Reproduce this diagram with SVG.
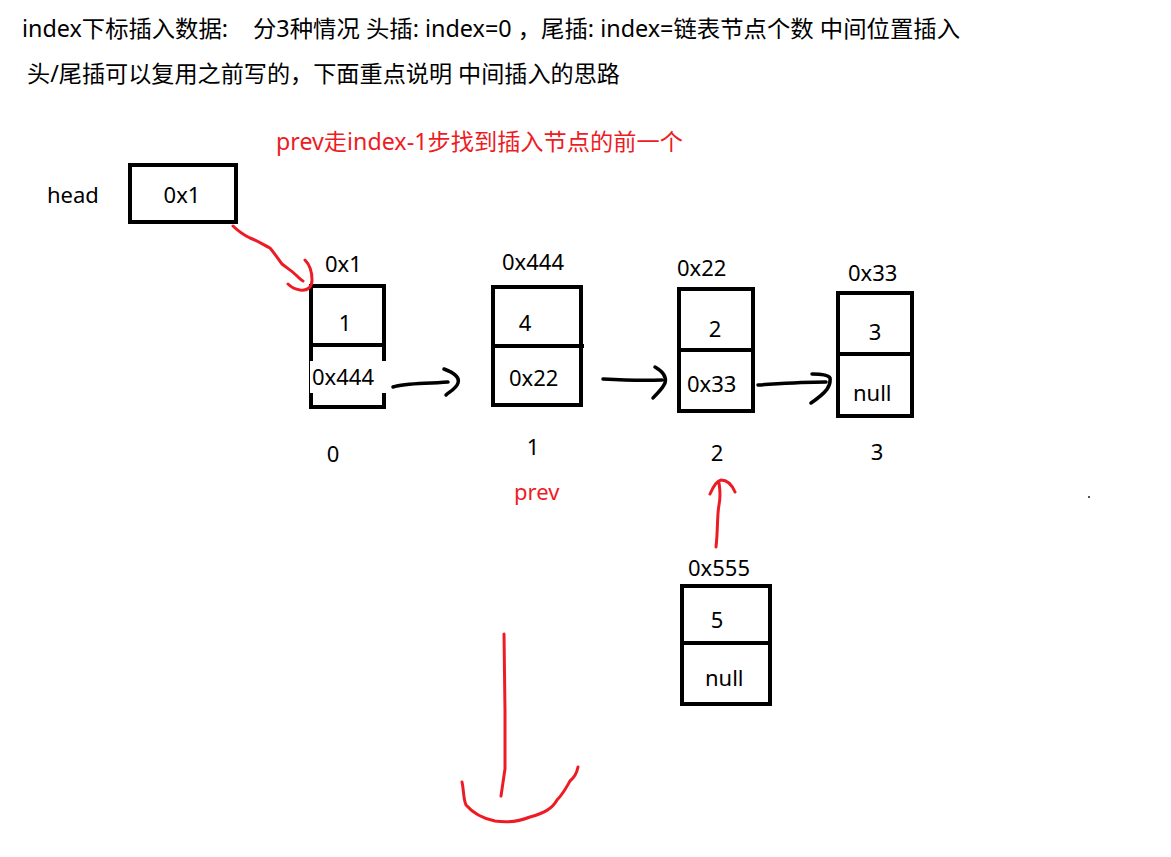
<svg xmlns="http://www.w3.org/2000/svg" width="1171" height="857" viewBox="0 0 1171 857">
<style>
text{font-family:"Noto Sans","Noto Sans CJK SC",sans-serif;font-size:22px;fill:#000}
.big{font-size:23px}
.red{fill:#ed1c24}
.box{fill:none;stroke:#000;stroke-width:4}
.ln{fill:none;stroke:#000;stroke-width:3.5;stroke-linecap:round;stroke-linejoin:round}
.rl{fill:none;stroke:#ed1c24;stroke-width:3;stroke-linecap:round;stroke-linejoin:round}
</style>
<rect width="1171" height="857" fill="#fff"/>
<g id="title">
<text class="big" x="22" y="37" textLength="206" lengthAdjust="spacingAndGlyphs">index下标插入数据:</text>
<text class="big" x="253" y="37" textLength="707" lengthAdjust="spacingAndGlyphs">分3种情况 头插: index=0 ，尾插: index=链表节点个数 中间位置插入</text>
<text class="big" x="27" y="82" textLength="593" lengthAdjust="spacingAndGlyphs">头/尾插可以复用之前写的，下面重点说明 中间插入的思路</text>
<text class="red big" x="276" y="150" textLength="407" lengthAdjust="spacingAndGlyphs">prev走index-1步找到插入节点的前一个</text>
</g>
<g id="head">
<text x="47" y="203">head</text>
<rect class="box" x="130" y="165" width="106" height="57"/>
<text x="182" y="203" text-anchor="middle">0x1</text>
</g>
<g id="node0">
<text x="325" y="272">0x1</text>
<rect class="box" x="311" y="286" width="73" height="121"/>
<line class="box" x1="311" y1="345" x2="384" y2="345"/>
<rect x="310" y="361" width="76" height="32" fill="#fff"/>
<text x="345" y="331" text-anchor="middle">1</text>
<text x="312" y="385">0x444</text>
<text x="333" y="462" text-anchor="middle">0</text>
</g>
<g id="node1">
<text x="502" y="270">0x444</text>
<rect class="box" x="493" y="287" width="88" height="118"/>
<line class="box" x1="493" y1="346" x2="584" y2="346"/>
<text x="525" y="331" text-anchor="middle">4</text>
<text x="509" y="386">0x22</text>
<text x="533" y="455" text-anchor="middle">1</text>
</g>
<g id="node2">
<text x="677" y="276">0x22</text>
<rect class="box" x="679" y="289" width="74" height="122"/>
<line class="box" x1="679" y1="350" x2="753" y2="350"/>
<text x="715" y="337" text-anchor="middle">2</text>
<text x="687" y="392">0x33</text>
<text x="717" y="461" text-anchor="middle">2</text>
</g>
<g id="node3">
<text x="848" y="281">0x33</text>
<rect class="box" x="838" y="293" width="74" height="123"/>
<line class="box" x1="838" y1="354" x2="912" y2="354"/>
<text x="875" y="340" text-anchor="middle">3</text>
<text x="853" y="401">null</text>
<text x="877" y="460" text-anchor="middle">3</text>
</g>
<g id="prev">
<text class="red" x="514" y="500">prev</text>
</g>
<g id="node5">
<text x="688" y="576">0x555</text>
<rect class="box" x="682" y="586" width="88" height="118"/>
<line class="box" x1="682" y1="643" x2="772" y2="643"/>
<text x="717" y="628" text-anchor="middle">5</text>
<text x="705" y="686">null</text>
</g>
<g id="connectors">
<path class="ln" d="M393,387 C405,383 420,384 448,382 M444,369 C452,372 460,377 458,383 C456,389 449,392 446,395"/>
<path class="ln" d="M603,379 C620,380 640,381 662,380 M655,367 C662,371 667,376 665,383 C662,390 656,394 653,398"/>
<path class="ln" d="M758,385 C775,384 800,382 826,382 M812,374 C818,374 828,374 830,378 C831,386 827,392 811,403"/>
<path class="rl" d="M233,226 C238,231 244,235 250,238 C258,241 264,245 270,248 C275,254 279,260 282,264 C287,268 292,271 296,275 C299,278 301,280 303,281 M305,260 C310,265 312,272 312,280 C312,287 308,291 300,290 C294,289 290,286 288,284"/>
<path class="rl" d="M716,547 C718,530 717,515 719,505 C721,495 720,490 719,483 M710,494 C713,487 716,481 721,480 C727,480 732,485 735,492"/>
<path class="rl" d="M504,634 L505,711 L505,769 C504,775 503,783 501,796 M462,782 C464,790 463,798 466,805 C472,812 480,818 495,821 C508,823 520,821 530,817 C544,813 552,809 557,800 C563,794 566,788 570,781 C575,777 577,772 578,767"/>
<rect x="1088" y="496" width="2" height="2" fill="#555"/>
</g>
</svg>
